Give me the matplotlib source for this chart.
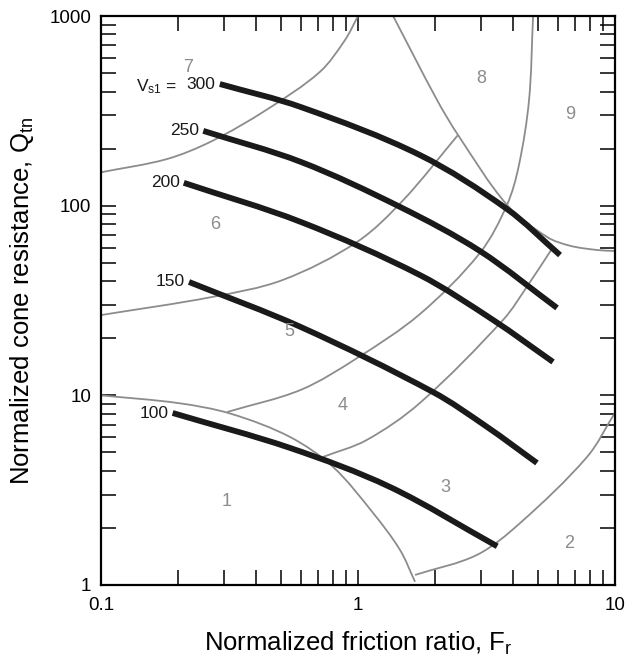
import numpy as np
import matplotlib.pyplot as plt
from matplotlib.path import Path
from matplotlib.patches import PathPatch

plt.rcParams['font.family'] = ['Liberation Sans', 'DejaVu Sans']
plt.rcParams['mathtext.default'] = 'regular'

# zone boundaries (Fr, Qtn)
Z76_F = [0.1, 0.18, 0.27, 0.44, 0.71, 0.89, 1.0]
Z76_Q = [150, 176, 219, 320, 507, 747, 1000]
Z65_F = [0.1, 0.27, 0.51, 0.99, 1.5, 2.45]
Z65_Q = [26.5, 33.0, 40.6, 64.3, 107, 236]
Z54_F = [0.31, 0.6, 0.99, 1.74, 2.98, 3.8, 4.23, 4.63, 4.8]
Z54_Q = [8.17, 10.7, 15.7, 26.8, 56.3, 101, 164, 361, 1000]
Z43_F = [0.73, 1.08, 1.74, 3.67, 4.59, 5.74]
Z43_Q = [4.73, 5.81, 9.11, 25.0, 38.2, 60.5]
Z8_F = [1.37, 2.03, 2.45, 3.8, 5.44, 6.68, 8.51, 10]
Z8_Q = [1000, 361, 236, 101, 68.4, 61.5, 58.4, 57.7]
Z1_F = [0.1, 0.2, 0.32, 0.544, 0.8, 1.144, 1.457, 1.667]
Z1_Q = [10.0, 9.1, 8.0, 6.03, 4.19, 2.40, 1.53, 1.04]
Z2_F = [1.667, 2.9, 4.27, 7.78, 10]
Z2_Q = [1.13, 1.44, 2.12, 4.73, 8.1]

boundaries = [(Z76_F, Z76_Q), (Z65_F, Z65_Q), (Z54_F, Z54_Q), (Z43_F, Z43_Q),
              (Z8_F, Z8_Q), (Z1_F, Z1_Q), (Z2_F, Z2_Q)]

# Vs1 contours
V300_F = [0.29, 0.6, 1.74, 3.8, 6.11]
V300_Q = [438, 331, 185, 96, 54.9]
V250_F = [0.25, 0.6, 1.46, 2.98, 5.95]
V250_Q = [248, 170, 98.4, 57.7, 28.9]
V200_F = [0.21, 0.6, 1.74, 3.35, 5.74]
V200_Q = [132, 82, 43.1, 25.0, 15.0]
V150_F = [0.22, 0.6, 1.96, 3.18, 4.97]
V150_Q = [39.6, 22.9, 10.4, 6.81, 4.40]
V100_F = [0.19, 0.544, 1.33, 3.48]
V100_Q = [8.07, 5.28, 3.29, 1.6]

contours = [("300", V300_F, V300_Q), ("250", V250_F, V250_Q), ("200", V200_F, V200_Q),
            ("150", V150_F, V150_Q), ("100", V100_F, V100_Q)]

zone_names = ["1", "2", "3", "4", "5", "6", "7", "8", "9"]
zone_F = [0.307, 6.62, 2.18, 0.874, 0.539, 0.278, 0.218, 3.01, 6.68]
zone_Q = [2.74, 1.665, 3.25, 8.89, 21.6, 79.1, 538, 471, 301]


def smooth_path(F, Q, sx=1.35):
    # cubic bezier through the read points, built in log-log space
    p = np.column_stack([np.log10(F) * sx, np.log10(Q)])
    d = np.hypot(*np.diff(p, axis=0).T)
    t = np.concatenate([[0], np.cumsum(d)])
    n = len(p)
    tang = np.zeros_like(p)
    for i in range(n):
        a, b = max(i - 1, 0), min(i + 1, n - 1)
        tang[i] = (p[b] - p[a]) / (t[b] - t[a])
    verts, codes = [p[0]], [Path.MOVETO]
    for i in range(n - 1):
        h = d[i] / 3
        verts += [p[i] + tang[i] * h, p[i + 1] - tang[i + 1] * h, p[i + 1]]
        codes += [Path.CURVE4] * 3
    verts = np.array(verts)
    verts[:, 0] /= sx
    return Path(10 ** verts, codes)


fig = plt.figure(figsize=(6.25, 6.57), dpi=100)
ax = fig.add_axes([0.1616, 0.1096, 0.8224, 0.866])
ax.set_xscale('log'); ax.set_yscale('log')
ax.set_xlim(0.1, 10); ax.set_ylim(1, 1000)

grey = '#8c8c8c'
for f, q in boundaries:
    ax.add_patch(PathPatch(smooth_path(f, q), fill=False, edgecolor=grey, lw=1.3, zorder=2))

for lab, f, q in contours:
    ax.add_patch(PathPatch(smooth_path(f, q), fill=False, edgecolor='#1a1a1a', lw=4.2,
                           capstyle='butt', zorder=3))
    ax.annotate(lab, (f[0], q[0]), xytext=(-3, 0), textcoords='offset points',
                ha='right', va='center', fontsize=12.5, color='#1a1a1a')
ax.annotate("V$_{s1}$ =", (V300_F[0], V300_Q[0]), xytext=(-31, -2), textcoords='offset points',
            ha='right', va='center', fontsize=12.5, color='#1a1a1a')

for name, f, q in zip(zone_names, zone_F, zone_Q):
    ax.text(f, q, name, ha='center', va='center', fontsize=13, color=grey)

ax.set_xticks([0.1, 1, 10]); ax.set_xticklabels(["0.1", "1", "10"])
ax.set_yticks([1, 10, 100, 1000]); ax.set_yticklabels(["1", "10", "100", "1000"])
ax.tick_params(which='both', direction='in', top=True, right=True, length=11, width=1.1,
               labelsize=13.5)
ax.tick_params(axis='x', pad=9)
ax.tick_params(axis='y', pad=7)
for s in ax.spines.values():
    s.set_linewidth(1.6)

ax.set_xlabel("Normalized friction ratio, F$_r$", fontsize=18.5, labelpad=11)
ax.set_ylabel("Normalized cone resistance, Q$_{tn}$", fontsize=18.5, labelpad=10)

fig.savefig("out.png", dpi=100)
